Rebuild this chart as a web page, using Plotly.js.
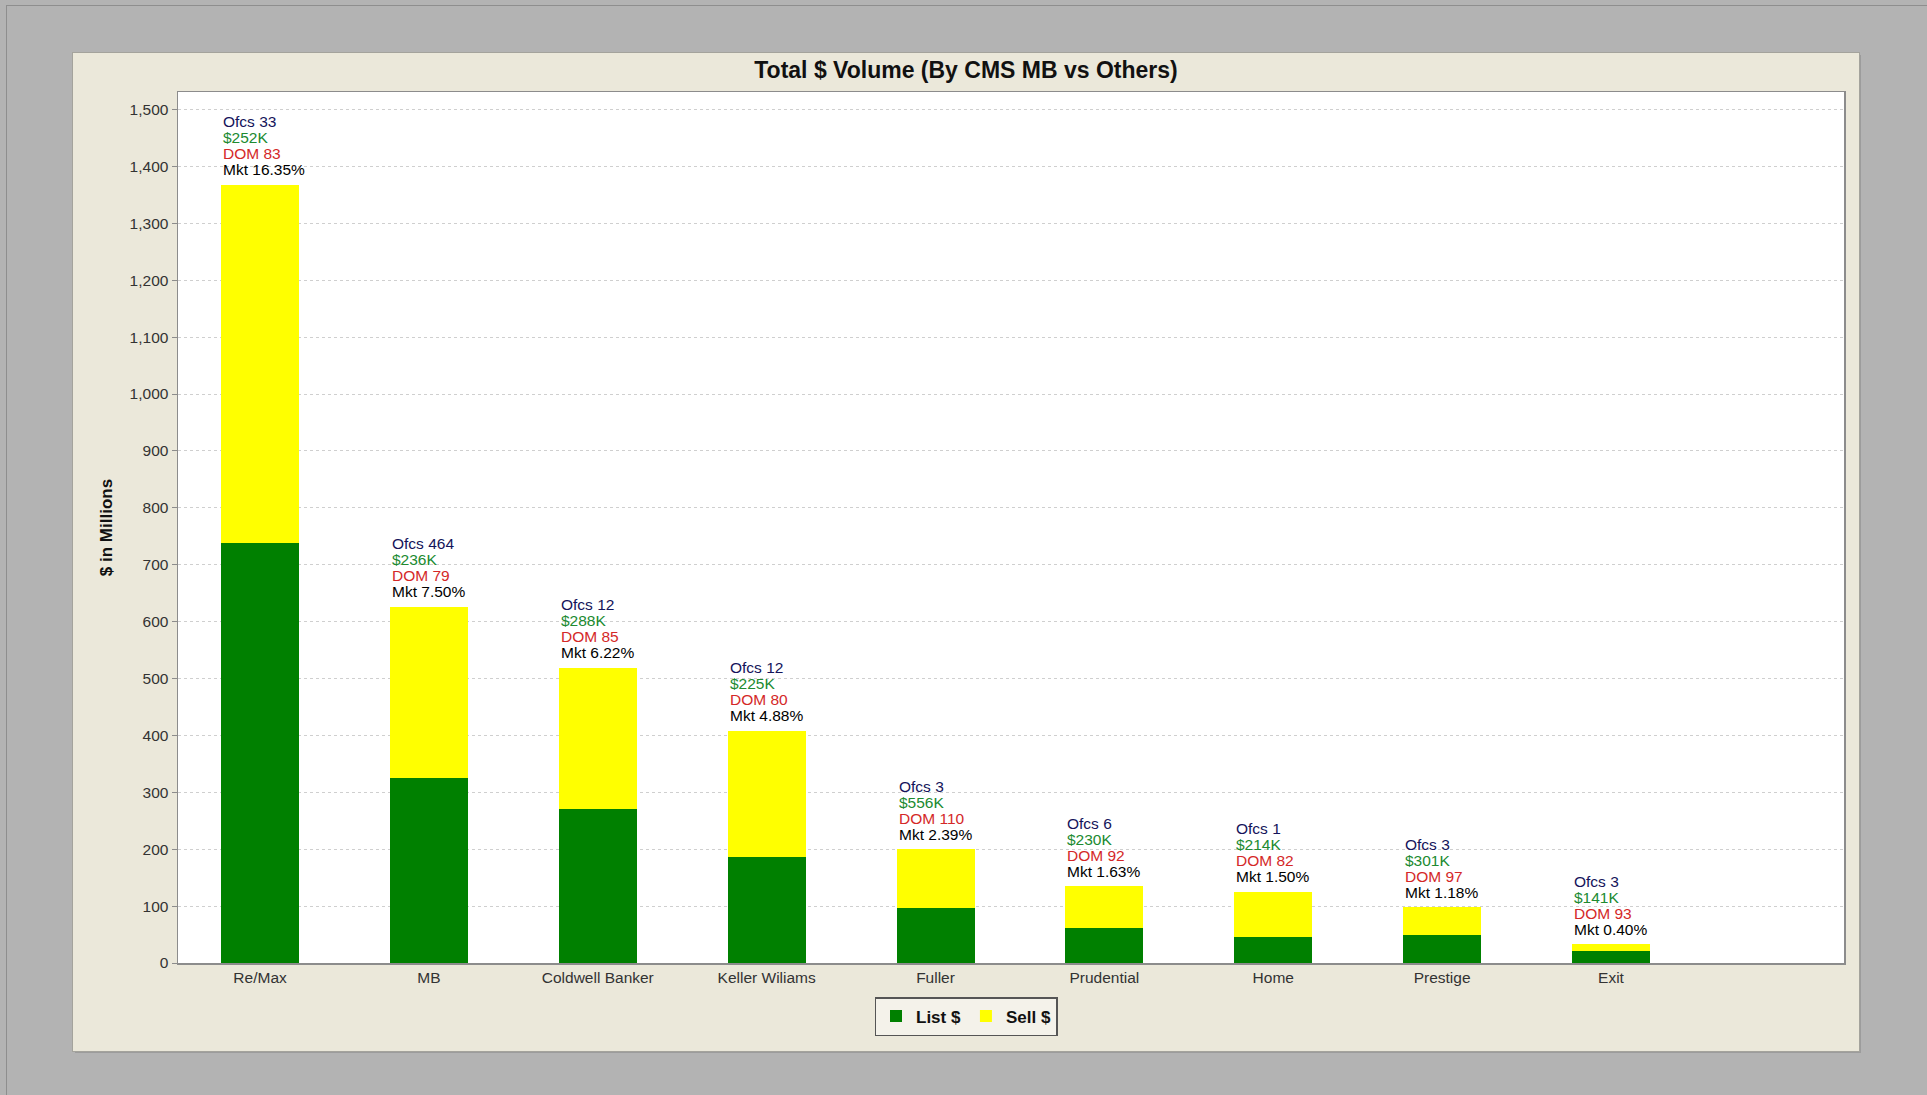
<!DOCTYPE html>
<html>
<head>
<meta charset="utf-8">
<script src="https://cdn.plot.ly/plotly-3.0.1.min.js"></script>
<style>
  html, body { margin: 0; padding: 0; background: #b3b3b3; width: 1927px; height: 1095px; overflow: hidden; }
  #frame { position: absolute; left: 6px; top: 5px; width: 1921px; height: 1090px;
           border-top: 1px solid #8e8e8e; border-left: 1px solid #8e8e8e; box-sizing: border-box; }
  #panel { position: absolute; left: 73px; top: 53px; width: 1786px; height: 998px;
           background: #ebe8da; outline: 1px solid #a4a39c;
           box-shadow: 1px 1px 0 #ffffff, 2px 2px 0 #9c9c9c; }
  #chart { width: 1786px; height: 998px; }
</style>
</head>
<body>
<div id="frame"></div>
<div id="panel"><div id="chart"></div></div>
<script>
// ---- data ----
const categories = ['Re/Max', 'MB', 'Coldwell Banker', 'Keller Wiliams', 'Fuller', 'Prudential', 'Home', 'Prestige', 'Exit'];
const listVals = [738, 325, 271, 187, 97, 62, 46, 49, 21.5];
const sellVals = [630, 301, 248, 221, 103, 73, 79, 49, 11.5];
const ofcs = [33, 464, 12, 12, 3, 6, 1, 3, 3];
const avgPrice = ['$252K', '$236K', '$288K', '$225K', '$556K', '$230K', '$214K', '$301K', '$141K'];
const dom = [83, 79, 85, 80, 110, 92, 82, 97, 93];
const mkt = ['16.35%', '7.50%', '6.22%', '4.88%', '2.39%', '1.63%', '1.50%', '1.18%', '0.40%'];
const yTickVals = [0, 100, 200, 300, 400, 500, 600, 700, 800, 900, 1000, 1100, 1200, 1300, 1400, 1500];

// ---- styles ----
const FONT = 'Liberation Sans, Arial, Helvetica, sans-serif';
const barWidth = 0.462;

const traces = [
  { type: 'bar', name: 'List $', x: categories, y: listVals, width: barWidth,
    marker: { color: '#008000', line: { width: 0 } }, hoverinfo: 'skip' },
  { type: 'bar', name: 'Sell $', x: categories, y: sellVals, width: barWidth,
    marker: { color: '#ffff00', line: { width: 0 } }, hoverinfo: 'skip' }
];

const annotations = [];
categories.forEach((c, i) => {
  const top = listVals[i] + sellVals[i];
  const lines = [
    { t: 'Ofcs ' + ofcs[i], color: '#14145a', s: 63 },
    { t: avgPrice[i], color: '#208a30', s: 47 },
    { t: 'DOM ' + dom[i], color: '#d42828', s: 31 },
    { t: 'Mkt ' + mkt[i], color: '#000000', s: 15 }
  ];
  lines.forEach(l => {
    annotations.push({
      x: c, y: top, xref: 'x', yref: 'y', text: l.t, showarrow: false,
      xanchor: 'left', yanchor: 'middle', xshift: -38, yshift: l.s,
      borderpad: 0,
      font: { family: FONT, size: 15.5, color: l.color }
    });
  });
});

const layout = {
  width: 1786, height: 998,
  margin: { l: 105, r: 15, t: 39, b: 88, pad: 0 },
  paper_bgcolor: '#ebe8da',
  plot_bgcolor: '#ffffff',
  barmode: 'stack',
  showlegend: true,
  title: {
    text: 'Total $ Volume (By CMS MB vs Others)',
    font: { family: FONT, size: 23, weight: 'bold', color: '#111111' },
    xref: 'container', x: 0.5, xanchor: 'center',
    yref: 'container', y: 1 - 17 / 998, yanchor: 'middle'
  },
  xaxis: {
    type: 'category',
    range: [-0.486, 9.38],
    showgrid: false,
    showline: true, mirror: true, linecolor: '#8c8c8c', linewidth: 1.5,
    ticks: '',
    tickfont: { family: FONT, size: 15.5, color: '#333333' },
    fixedrange: true
  },
  yaxis: {
    range: [0, 1530.8],
    tickvals: yTickVals,
    tickformat: ',d',
    showgrid: true, gridcolor: '#cfcfcf', griddash: '3px,3px', gridwidth: 1,
    zeroline: false,
    showline: true, mirror: true, linecolor: '#8c8c8c', linewidth: 1.5,
    ticks: 'outside', ticklen: 5, tickcolor: '#8c8c8c',
    tickfont: { family: FONT, size: 15.5, color: '#333333' },
    title: { text: '$ in Millions', standoff: 12,
             font: { family: FONT, size: 17, weight: 'bold', color: '#111111' } },
    fixedrange: true
  },
  legend: {
    orientation: 'h',
    xref: 'container', x: 0.5, xanchor: 'center',
    yref: 'container', y: 1 - 944 / 998, yanchor: 'top',
    bgcolor: '#f4f2ea', bordercolor: '#555555', borderwidth: 1.5,
    font: { family: FONT, size: 17, weight: 'bold', color: '#111111' },
    itemwidth: 30, traceorder: 'normal',
    itemclick: false, itemdoubleclick: false
  },
  annotations: annotations
};

Plotly.newPlot('chart', traces, layout, { displayModeBar: false, staticPlot: true });
</script>
</body>
</html>
